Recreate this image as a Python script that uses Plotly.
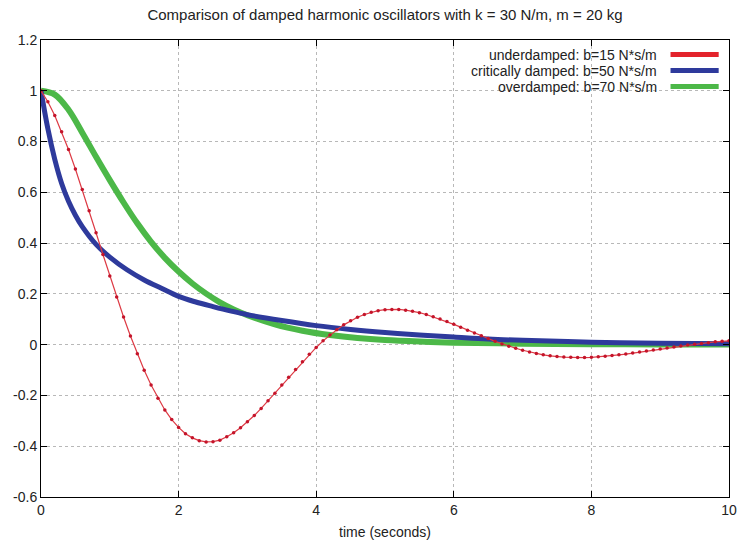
import plotly.graph_objects as go

# ---------------- data ----------------
t_under = [0.0, 0.1, 0.2, 0.3, 0.4, 0.5, 0.6, 0.7, 0.8, 0.9,
           1.0, 1.1, 1.2, 1.3, 1.4, 1.5, 1.6, 1.7, 1.8, 1.9,
           2.0, 2.1, 2.2, 2.3, 2.4, 2.5, 2.6, 2.7, 2.8, 2.9,
           3.0, 3.1, 3.2, 3.3, 3.4, 3.5, 3.6, 3.7, 3.8, 3.9,
           4.0, 4.1, 4.2, 4.3, 4.4, 4.5, 4.6, 4.7, 4.8, 4.9,
           5.0, 5.1, 5.2, 5.3, 5.4, 5.5, 5.6, 5.7, 5.8, 5.9,
           6.0, 6.1, 6.2, 6.3, 6.4, 6.5, 6.6, 6.7, 6.8, 6.9,
           7.0, 7.1, 7.2, 7.3, 7.4, 7.5, 7.6, 7.7, 7.8, 7.9,
           8.0, 8.1, 8.2, 8.3, 8.4, 8.5, 8.6, 8.7, 8.8, 8.9,
           9.0, 9.1, 9.2, 9.3, 9.4, 9.5, 9.6, 9.7, 9.8, 9.9, 10.0]
x_under = [1.000, 0.957, 0.903, 0.839, 0.769, 0.692, 0.611, 0.527, 0.441, 0.355,
           0.270, 0.188, 0.109, 0.034, -0.036, -0.101, -0.159, -0.211, -0.257, -0.295,
           -0.326, -0.351, -0.367, -0.378, -0.383, -0.382, -0.376, -0.363, -0.347, -0.327,
           -0.304, -0.279, -0.251, -0.221, -0.191, -0.159, -0.128, -0.098, -0.067, -0.038,
           -0.011, 0.015, 0.038, 0.059, 0.078, 0.094, 0.108, 0.119, 0.128, 0.134,
           0.138, 0.139, 0.139, 0.136, 0.132, 0.126, 0.119, 0.110, 0.101, 0.091,
           0.080, 0.069, 0.057, 0.046, 0.035, 0.024, 0.013, 0.003, -0.006, -0.014,
           -0.022, -0.029, -0.035, -0.040, -0.044, -0.047, -0.049, -0.050, -0.051, -0.051,
           -0.050, -0.048, -0.046, -0.043, -0.040, -0.037, -0.033, -0.029, -0.025, -0.021,
           -0.017, -0.013, -0.009, -0.005, -0.001, 0.002, 0.005, 0.008, 0.011, 0.013, 0.015]

t_crit = [0.0, 0.1, 0.2, 0.3, 0.4, 0.5, 0.6, 0.8, 1.0, 1.25, 1.5, 1.75, 2.0, 2.25,
          2.5, 2.75, 3.0, 3.5, 4.0, 4.5, 5.0, 5.5, 6.0, 6.5, 7.0, 8.0, 9.0, 10.0]
x_crit = [1.000, 0.850, 0.730, 0.635, 0.565, 0.510, 0.465, 0.395, 0.345, 0.295, 0.255,
          0.222, 0.190, 0.168, 0.150, 0.133, 0.118, 0.095, 0.075, 0.060, 0.048, 0.038,
          0.030, 0.022, 0.017, 0.010, 0.006, 0.004]

t_over = [0.0, 0.2, 0.4, 0.6, 0.8, 1.0, 1.2, 1.4, 1.6, 1.8, 2.0, 2.2, 2.4, 2.6,
          2.8, 3.0, 3.4, 3.8, 4.2, 4.6, 5.0, 5.5, 6.0, 7.0, 8.0, 9.0, 10.0]
x_over = [1.000, 0.985, 0.925, 0.835, 0.740, 0.648, 0.560, 0.478, 0.405, 0.342,
          0.288, 0.241, 0.201, 0.167, 0.139, 0.116, 0.080, 0.055, 0.038, 0.026,
          0.018, 0.012, 0.008, 0.004, 0.002, 0.001, 0.0005]

names = ["underdamped: b=15 N*s/m",
         "critically damped: b=50 N*s/m",
         "overdamped: b=70 N*s/m"]
colors = ["#e3232c", "#2e3a9c", "#4cb848"]

x_ticks = [0, 2, 4, 6, 8, 10]
x_ticktext = ["0", "2", "4", "6", "8", "10"]
y_ticks = [-0.6, -0.4, -0.2, 0, 0.2, 0.4, 0.6, 0.8, 1.0, 1.2]
y_ticktext = ["-0.6", "-0.4", "-0.2", "0", "0.2", "0.4", "0.6", "0.8", "1", "1.2"]

title_text = "Comparison of damped harmonic oscillators with k = 30 N/m, m = 20 kg"
x_title = "time (seconds)"

# ---------------- figure ----------------
fig = go.Figure()

fig.add_trace(go.Scatter(x=t_over, y=x_over, mode="lines", name=names[2],
                         line=dict(color=colors[2], width=6, shape="spline"),
                         showlegend=False))
fig.add_trace(go.Scatter(x=t_crit, y=x_crit, mode="lines", name=names[1],
                         line=dict(color=colors[1], width=5, shape="spline"),
                         showlegend=False))
fig.add_trace(go.Scatter(x=t_under, y=x_under, mode="lines+markers", name=names[0],
                         line=dict(color="#dd3a44", width=1.2),
                         marker=dict(color="#c4142a", size=3.5),
                         showlegend=False))

font_family = "Liberation Sans, Arial, sans-serif"

fig.update_layout(
    width=739, height=544,
    margin=dict(l=41, r=10, t=40, b=47, autoexpand=False),
    paper_bgcolor="white", plot_bgcolor="white",
    font=dict(family=font_family, size=14, color="#222222"),
    title=dict(text=title_text, x=0.521, xanchor="center", y=0.972, yanchor="middle",
               font=dict(size=15, color="#222222")),
    xaxis=dict(range=[0, 10], tickvals=x_ticks, ticktext=x_ticktext, automargin=False,
               ticklabeloverflow="allow",
               showgrid=True, gridcolor="#b8b8b8", griddash="dot", gridwidth=1,
               zeroline=False, showline=True, linecolor="black", linewidth=1,
               mirror="ticks", ticks="inside", ticklen=6, tickcolor="black",
               tickfont=dict(size=14, color="#222222"),
               title=dict(text=x_title, font=dict(size=14, color="#222222"), standoff=10)),
    yaxis=dict(range=[-0.6, 1.2], tickvals=y_ticks, ticktext=y_ticktext, automargin=False,
               ticklabeloverflow="allow",
               showgrid=True, gridcolor="#b8b8b8", griddash="dot", gridwidth=1,
               zeroline=False, showline=True, linecolor="black", linewidth=1,
               mirror="ticks", ticks="inside", ticklen=6, tickcolor="black",
               tickfont=dict(size=14, color="#222222")),
)

# legend drawn gnuplot-style: right-aligned text with sample line on its right
fig.add_shape(type="rect", xref="paper", yref="paper", x0=0.515, x1=0.999,
              y0=0.875, y1=0.999, fillcolor="white", line=dict(width=0), layer="between")
legend_y = [0.968, 0.933, 0.898]
for name, col, ly in zip(names, colors, legend_y):
    fig.add_annotation(xref="paper", yref="paper", x=0.898, y=ly, text=name,
                       showarrow=False, xanchor="right", yanchor="middle",
                       font=dict(size=14, color="#222222", family=font_family))
    fig.add_shape(type="line", xref="paper", yref="paper", x0=0.915, x1=0.985,
                  y0=ly, y1=ly, line=dict(color=col, width=5), layer="above")

# remove the browser's default page margin so the 739x544 figure fills the window
fig.write_html("out.html",
               config={"displayModeBar": False},
               post_script="document.body.style.margin='0';"
                           "document.body.style.overflow='hidden';")
